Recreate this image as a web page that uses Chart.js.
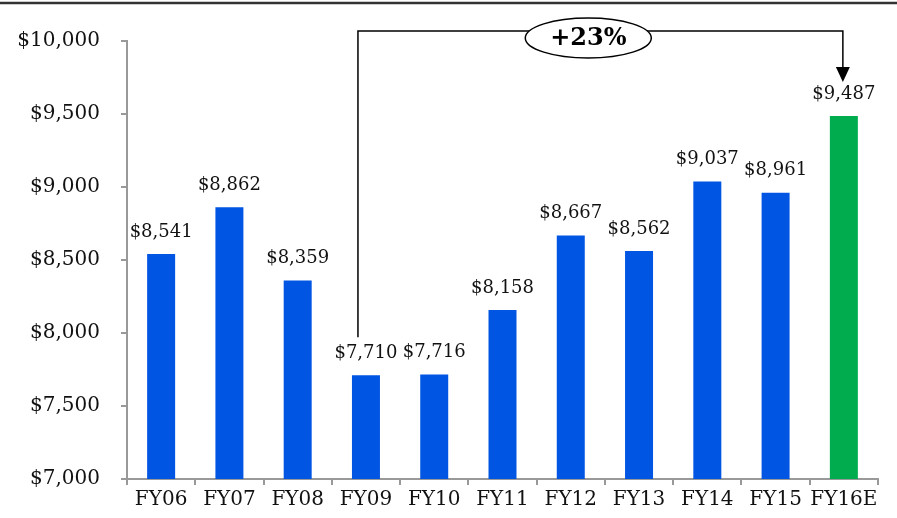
<!DOCTYPE html>
<html>
<head>
<meta charset="utf-8">
<script src="https://cdn.jsdelivr.net/npm/chart.js@4"></script>
<style>html,body{margin:0;padding:0;background:#fff;}canvas{display:block;}</style>
</head>
<body>
<canvas id="c" width="897" height="518"></canvas>
<script>
const categories = ["FY06","FY07","FY08","FY09","FY10","FY11","FY12","FY13","FY14","FY15","FY16E"];
const values = [8541, 8862, 8359, 7710, 7716, 8158, 8667, 8562, 9037, 8961, 9487];
const barColors = ["#0055E3","#0055E3","#0055E3","#0055E3","#0055E3","#0055E3","#0055E3","#0055E3","#0055E3","#0055E3","#00AC4E"];
const yTicks = [7000, 7500, 8000, 8500, 9000, 9500, 10000];
const growthLabel = "+23%";

const FONT = "'DejaVu Serif', serif";
const fmt = v => "$" + v.toLocaleString("en-US");

const labelsPlugin = {
  id: "labels",
  afterDatasetsDraw(chart) {
    const ctx = chart.ctx;
    const meta = chart.getDatasetMeta(0);
    ctx.save();
    ctx.font = "18px " + FONT;
    ctx.fillStyle = "#111";
    ctx.textAlign = "center";
    ctx.textBaseline = "middle";
    meta.data.forEach((bar, i) => {
      ctx.fillText(fmt(values[i]), bar.x, bar.y - 22);
    });
    // annotation bracket
    const xs = chart.scales.x, ys = chart.scales.y;
    const x1 = xs.getPixelForValue(3) - 8;
    const x2 = xs.getPixelForValue(10) - 1;
    const yTop = ys.getPixelForValue(10000) - 10;
    const yLeftEnd = meta.data[3].y - 38;
    const yArrow = meta.data[10].y - 34;
    ctx.strokeStyle = "#000";
    ctx.lineWidth = 1.5;
    ctx.beginPath();
    ctx.moveTo(x1, yLeftEnd);
    ctx.lineTo(x1, yTop);
    ctx.lineTo(x2, yTop);
    ctx.lineTo(x2, yArrow - 14);
    ctx.stroke();
    ctx.fillStyle = "#000";
    ctx.beginPath();
    ctx.moveTo(x2 - 7, yArrow - 15);
    ctx.lineTo(x2 + 7, yArrow - 15);
    ctx.lineTo(x2, yArrow);
    ctx.closePath();
    ctx.fill();
    // ellipse
    const ex = x1 + (x2 - x1) * 0.475, ey = yTop + 7;
    ctx.beginPath();
    ctx.ellipse(ex, ey, 63, 20, 0, 0, Math.PI * 2);
    ctx.fillStyle = "#fff";
    ctx.fill();
    ctx.lineWidth = 1.5;
    ctx.stroke();
    ctx.fillStyle = "#000";
    ctx.font = "bold 24px " + FONT;
    ctx.textAlign = "center";
    ctx.textBaseline = "middle";
    ctx.fillText(growthLabel, ex, ey + 1);
    // top rule
    ctx.strokeStyle = "#333";
    ctx.lineWidth = 2.5;
    ctx.beginPath();
    ctx.moveTo(0, 3);
    ctx.lineTo(chart.width, 3);
    ctx.stroke();
    ctx.restore();
  }
};

new Chart(document.getElementById("c"), {
  type: "bar",
  data: {
    labels: categories,
    datasets: [{
      data: values,
      backgroundColor: barColors,
      categoryPercentage: 1,
      barPercentage: 0.41,
      borderWidth: 0
    }]
  },
  options: {
    responsive: false,
    animation: false,
    layout: { padding: { top: 41, right: 19, left: 0, bottom: 0 } },
    plugins: { legend: { display: false }, tooltip: { enabled: false } },
    scales: {
      y: {
        min: 7000, max: 10000,
        afterFit: s => { s.width = 127; },
        afterBuildTicks: s => { s.ticks = yTicks.map(v => ({ value: v })); },
        ticks: { font: { family: FONT, size: 20 }, color: "#111", padding: 21, callback: v => fmt(v) },
        grid: { drawOnChartArea: false, drawTicks: true, tickLength: 6, color: "#999", lineWidth: 2 },
        border: { display: true, color: "#999", width: 2 }
      },
      x: {
        afterFit: s => { s.height = 39; },
        ticks: { font: { family: FONT, size: 20 }, color: "#111", padding: 3, maxRotation: 0, minRotation: 0, autoSkip: false },
        grid: { drawOnChartArea: false, drawTicks: true, tickLength: 6, color: "#999", lineWidth: 2, offset: true },
        border: { display: true, color: "#999", width: 2 }
      }
    }
  },
  plugins: [labelsPlugin]
});
</script>
</body>
</html>
